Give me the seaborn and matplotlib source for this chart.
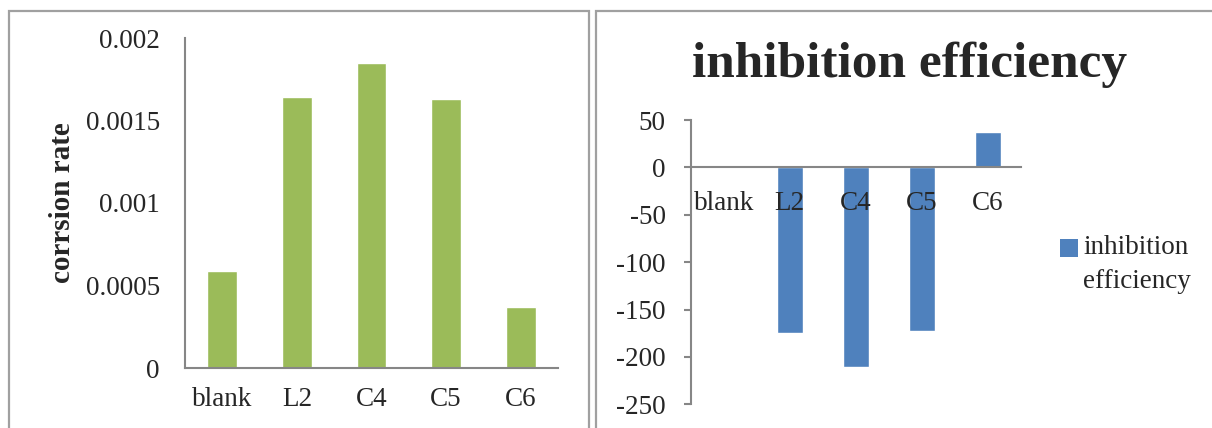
import matplotlib
matplotlib.use("Agg")
import matplotlib.pyplot as plt
from matplotlib.patches import Rectangle, Patch
from matplotlib.legend_handler import HandlerPatch
from matplotlib.ticker import FixedLocator
import seaborn as sns

# Samples
categories = ["blank", "L2", "C4", "C5", "C6"]

# Corrosion rate per sample
corrosion_rate = [0.00059, 0.00164, 0.00185, 0.00163, 0.00037]
rate_ticks = [0, 0.0005, 0.001, 0.0015, 0.002]
rate_tick_labels = ["0", "0.0005", "0.001", "0.0015", "0.002"]

# Inhibition efficiency (%) per sample
inhibition = [0, -175, -211, -173, 37]
ie_ticks = [-250, -200, -150, -100, -50, 0, 50]
ie_tick_labels = ["-250", "-200", "-150", "-100", "-50", "0", "50"]

sns.set_style("white")
plt.rcParams["font.family"] = ["Liberation Serif", "DejaVu Serif"]
plt.rcParams["axes.unicode_minus"] = False

W, H = 1212, 428
fig = plt.figure(figsize=(W / 100, H / 100), dpi=100)

GREEN = "#9BBB59"
BLUE = "#4F81BD"
AXIS_GRAY = "#868686"
BORDER_GRAY = "#A0A0A0"
FS = 19.5


def px_rect(x0, y0, x1, y1):
    """Figure-fraction rectangle from pixel coordinates (top-left origin)."""
    return [x0 / W, 1 - y1 / H, (x1 - x0) / W, (y1 - y0) / H]


# Chart-area frames
for x0, x1 in [(8.5, 588.5), (596, 1240)]:
    fig.patches.append(Rectangle((x0 / W, -0.1), (x1 - x0) / W, 1.1 - 10.5 / H,
                                 transform=fig.transFigure, fill=False,
                                 edgecolor=BORDER_GRAY, linewidth=1.6))

# ---- Corrosion rate chart ----
ax1 = fig.add_axes(px_rect(185, 38, 558, 368))
sns.barplot(x=categories, y=corrosion_rate, color=GREEN, saturation=1,
            width=0.4, ax=ax1)
ax1.set_xlim(-0.5, 4.5)
ax1.set_ylim(0, 0.002)
ax1.yaxis.set_major_locator(FixedLocator(rate_ticks))
ax1.set_yticklabels(rate_tick_labels)
for s in ["top", "right"]:
    ax1.spines[s].set_visible(False)
for s in ["left", "bottom"]:
    ax1.spines[s].set_color(AXIS_GRAY)
    ax1.spines[s].set_linewidth(1.5)
ax1.tick_params(axis="y", length=0, pad=18, labelsize=FS)
ax1.tick_params(axis="x", length=0, pad=14, labelsize=FS)
ax1.set_xlabel("")
ax1.set_ylabel("corrsion rate", fontsize=FS + 1.5, fontweight="bold")
ax1.yaxis.set_label_coords(-(124 - 15) / 373, 0.5)

# ---- Inhibition efficiency chart ----
ax2 = fig.add_axes(px_rect(690.7, 120, 1021, 404.3))
sns.barplot(x=categories, y=inhibition, color=BLUE, saturation=1,
            width=0.4, ax=ax2)
ax2.set_axisbelow(False)
ax2.set_xlim(-0.5, 4.5)
ax2.set_ylim(-250, 50)
ax2.yaxis.set_major_locator(FixedLocator(ie_ticks))
ax2.set_yticklabels(ie_tick_labels)
for s in ["top", "right"]:
    ax2.spines[s].set_visible(False)
for s in ["left", "bottom"]:
    ax2.spines[s].set_color(AXIS_GRAY)
    ax2.spines[s].set_linewidth(1.5)
ax2.spines["bottom"].set_position(("data", 0))
ax2.xaxis.set_minor_locator(FixedLocator([0.5, 1.5, 2.5, 3.5, 4.5]))
ax2.tick_params(axis="x", which="major", length=0, pad=17, labelsize=FS)
ax2.tick_params(axis="x", which="minor", length=5, width=1.5,
                color=AXIS_GRAY, direction="out")
ax2.tick_params(axis="y", length=5, width=1.5, color=AXIS_GRAY,
                direction="out", pad=13, labelsize=FS, left=True)
ax2.set_xlabel("")
ax2.set_ylabel("")

fig.text(909.5 / W, 1 - 77 / H, "inhibition efficiency", ha="center",
         va="baseline", fontsize=37, fontweight="bold")


def first_line_square(legend, orig_handle, xdescent, ydescent, width, height, fontsize):
    # keep the key beside the first line of a two-line label
    return Rectangle((-xdescent, -ydescent + 0.62 * fontsize), width, height)


handle = Patch(facecolor=BLUE, edgecolor="none")
leg = fig.legend([handle], ["inhibition\nefficiency"], loc="upper left",
                 bbox_to_anchor=(1060 / W, 1 - 235 / H), frameon=False,
                 fontsize=FS, handlelength=0.65, handleheight=0.65,
                 handletextpad=0.2, borderaxespad=0, borderpad=0,
                 handler_map={Patch: HandlerPatch(patch_func=first_line_square)})
for t in leg.get_texts():
    t.set_linespacing(1.5)

fig.savefig("out.png", dpi=100, facecolor="white")
